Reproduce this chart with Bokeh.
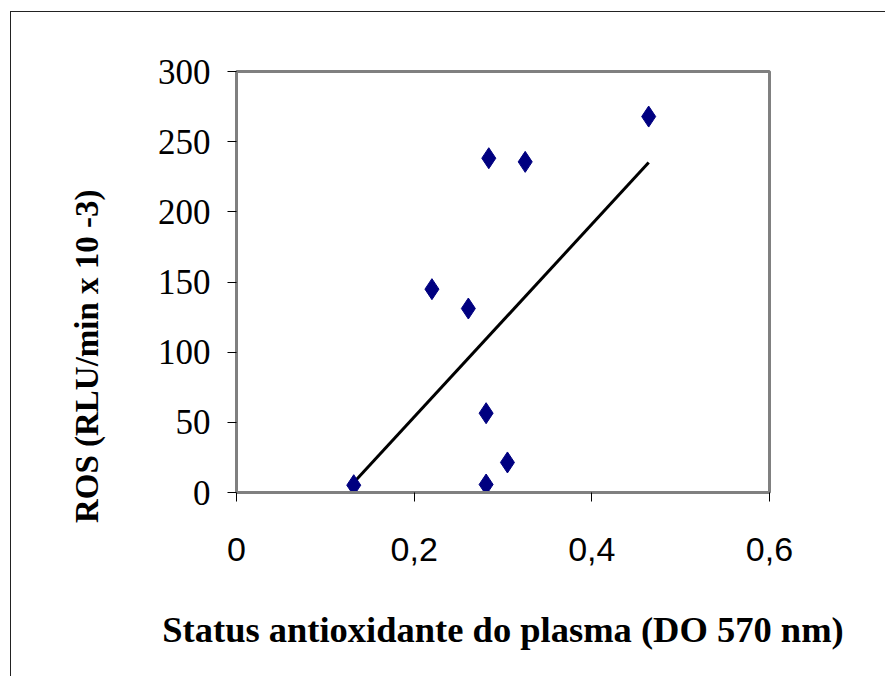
from bokeh.plotting import figure
from bokeh.models import Range1d, FixedTicker
from bokeh.embed import file_html
from bokeh.resources import INLINE

# Data
antioxidant = [0.132, 0.220, 0.261, 0.284, 0.325, 0.464, 0.281, 0.305, 0.281]
ros = [5.2, 144.9, 131.1, 238.2, 235.6, 267.9, 56.5, 21.4, 5.7]
trend_x = [0.132, 0.464]
trend_y = [7.1, 235.1]
x_ticks = [0, 0.2, 0.4, 0.6]
x_tick_labels = ["0", "0,2", "0,4", "0,6"]
y_ticks = [0, 50, 100, 150, 200, 250, 300]
x_title = "Status antioxidante do plasma (DO 570 nm)"
y_title = "ROS (RLU/min x 10 -3)"

W, H = 875, 665
p = figure(width=W, height=H, output_backend="svg", toolbar_location=None,
           x_range=Range1d(0, 0.6), y_range=Range1d(0, 300),
           min_border_left=225, min_border_top=59, min_border_right=W - 758,
           min_border_bottom=H - 480)
p.styles = {"border-left": "1px solid #222", "border-top": "1px solid #222",
            "margin-left": "10px", "margin-top": "11px"}
p.grid.visible = False
p.background_fill_color = "white"
p.border_fill_color = "white"
p.outline_line_color = "#808080"
p.outline_line_width = 3

# axes
for ax in (p.xaxis[0], p.yaxis[0]):
    ax.axis_line_color = "#808080"
    ax.axis_line_width = 3
    ax.major_tick_line_color = "black"
    ax.major_tick_line_width = 1
    ax.major_tick_out = 9
    ax.major_tick_in = 0
    ax.minor_tick_line_color = None

p.xaxis.ticker = FixedTicker(ticks=x_ticks)
p.xaxis.major_label_overrides = {t: l for t, l in zip(x_ticks, x_tick_labels)}
p.xaxis.major_label_text_font = "Liberation Sans"
p.xaxis.major_label_text_font_size = "34px"
p.xaxis.major_label_text_color = "black"
p.xaxis.major_label_standoff = 36
p.xaxis.axis_label = x_title
p.xaxis.axis_label_text_font = "Liberation Serif"
p.xaxis.axis_label_text_font_style = "bold"
p.xaxis.axis_label_text_font_size = "36.5px"
p.xaxis.axis_label_text_color = "black"
p.xaxis.axis_label_standoff = 45

p.yaxis.ticker = FixedTicker(ticks=y_ticks)
p.yaxis.major_label_text_font = "Liberation Serif"
p.yaxis.major_label_text_font_size = "35px"
p.yaxis.major_label_text_color = "black"
p.yaxis.major_label_standoff = 17
# trailing no-break spaces shift the visible title towards the bottom,
# as in the reference
p.yaxis.axis_label = y_title + "\u00a0" * 18
p.yaxis.axis_label_text_font = "Liberation Serif"
p.yaxis.axis_label_text_font_style = "bold"
p.yaxis.axis_label_text_font_size = "33px"
p.yaxis.axis_label_text_color = "black"
p.yaxis.axis_label_standoff = 50

p.line(trend_x, trend_y, line_color="black", line_width=3)
p.scatter(antioxidant, ros, marker="diamond", size=21,
          fill_color="#000080", line_color="#000080")

open("out.html", "w").write(file_html(p, INLINE))
